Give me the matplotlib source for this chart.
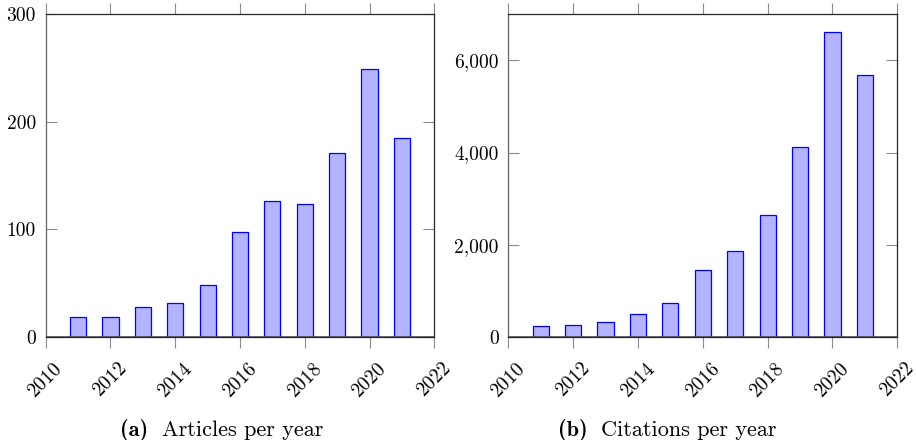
import matplotlib
matplotlib.use("Agg")
import matplotlib.pyplot as plt
from matplotlib.ticker import FuncFormatter

years = [2011, 2012, 2013, 2014, 2015, 2016, 2017, 2018, 2019, 2020, 2021]
articles = [19, 19, 28, 32, 48, 98, 126, 124, 171, 249, 185]
citations = [231, 260, 318, 498, 729, 1444, 1856, 2657, 4116, 6606, 5675]
xticks = [2010, 2012, 2014, 2016, 2018, 2020, 2022]
captions = [("(a)", "Articles per year"), ("(b)", "Citations per year")]

plt.rcParams['font.family'] = ['cmr10', 'DejaVu Serif']
plt.rcParams['axes.formatter.use_mathtext'] = True
FS = 14
CFS = 16

fig = plt.figure(figsize=(9.16, 4.4), dpi=100)
W, H = 916, 440
axes_px = [(45.7, 14.3, 388.6, 322.7), (508.3, 14.3, 389.0, 322.7)]
ylims = [(0, 300), (0, 7000)]
yticks = [[0, 100, 200, 300], [0, 2000, 4000, 6000]]
datas = [articles, citations]
cap_px = [(120, 162), (557.7, 601)]

for i in range(2):
    x0, y0, w, h = axes_px[i]
    ax = fig.add_axes([x0 / W, 1 - (y0 + h) / H, w / W, h / H])
    ax.bar(years, datas[i], width=0.5, color=(0.7, 0.7, 1.0),
           edgecolor=(0, 0, 1), linewidth=0.9, zorder=2)
    ax.set_xlim(2010, 2022)
    ax.set_ylim(*ylims[i])
    ax.set_xticks(xticks)
    ax.set_yticks(yticks[i])
    ax.yaxis.set_major_formatter(FuncFormatter(lambda v, p: f"{v:,.0f}"))
    ax.tick_params(axis='x', which='major', direction='out', length=8,
                   width=0.8, color='0.55', top=True, bottom=True, labeltop=False,
                   labelsize=FS, pad=8.5)
    ax.tick_params(axis='y', which='major', direction='in', length=8,
                   width=0.8, color='0.55', left=True, right=True, labelright=False,
                   labelsize=FS, pad=7)
    for lab in ax.get_xticklabels():
        lab.set_rotation(45)
        lab.set_ha('center')
        lab.set_va('top')
    for s in ax.spines.values():
        s.set_linewidth(0.9)
        s.set_color('0.15')
    ax.spines['left'].set_color('0.4')
    ax.axhline(0, color='0.3', linewidth=1.2, zorder=3)

    bx, tx = cap_px[i]
    fig.text(bx / W, 4.5 / H, captions[i][0], fontsize=CFS, family=['cmb10', 'DejaVu Serif'],
             ha='left', va='baseline')
    fig.text(tx / W, 4.5 / H, captions[i][1], fontsize=CFS, ha='left', va='baseline')

fig.savefig("out.png", dpi=100)
